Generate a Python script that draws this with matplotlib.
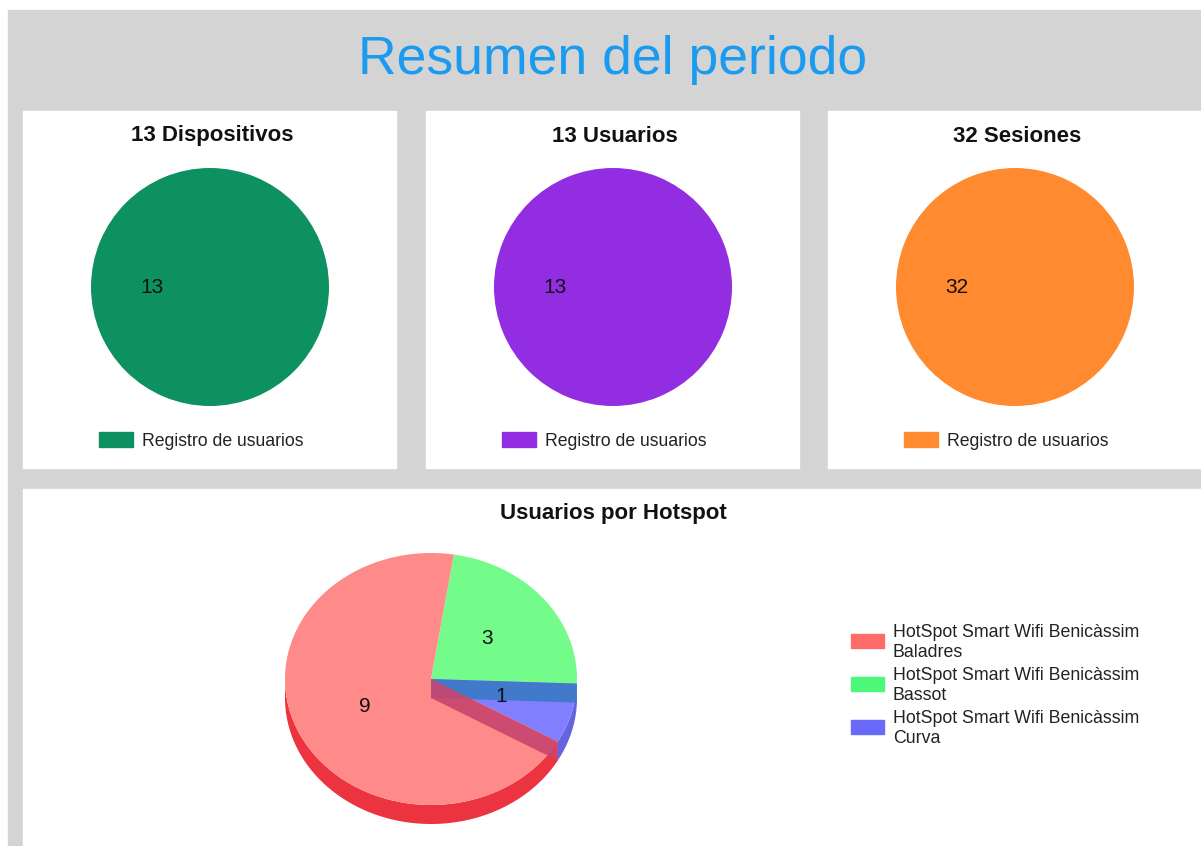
import numpy as np
import matplotlib.pyplot as plt
from matplotlib.patches import Rectangle, Polygon

plt.rcParams['font.family'] = ['Liberation Sans', 'DejaVu Sans']

# summary counters
summary_titles = ['Dispositivos', 'Usuarios', 'Sesiones']
summary_values = [13, 13, 32]
summary_colors = ['#0e9160', '#922de2', '#ff8a30']
summary_label = 'Registro de usuarios'

# users per hotspot
hotspots = ['HotSpot Smart Wifi Benicàssim\nBaladres',
            'HotSpot Smart Wifi Benicàssim\nBassot',
            'HotSpot Smart Wifi Benicàssim\nCurva']
hotspot_users = [9, 3, 1]
top_colors = ['#ff8a8a', '#74fc8a', '#7f7fff']
side_colors = ['#ec3440', '#3fcc5a', '#6464e0']
wall_colors = ['#c8456e', '#3fcc5a', '#3b79c6']
legend_colors = ['#ff6b6b', '#4cf77a', '#6a6af8']

W, H = 1201, 846
fig = plt.figure(figsize=(W / 100, H / 100), dpi=100)
fig.patch.set_facecolor('white')

# pixel based background axes
bg = fig.add_axes([0, 0, 1, 1])
bg.set_xlim(0, W)
bg.set_ylim(H, 0)
bg.axis('off')

bg.add_patch(Rectangle((8, 10), W - 8, H - 10, color='#d4d4d4', zorder=0))
bg.text(613, 60, 'Resumen del periodo', ha='center', va='center',
        fontsize=38.5, color='#1a9bf0')

panel_left = [23, 426, 828]
panel_w = 373
for i, (name, val, col) in enumerate(zip(summary_titles, summary_values, summary_colors)):
    x0 = panel_left[i]
    bg.add_patch(Rectangle((x0, 111), panel_w, 357, color='white', zorder=1))
    cx = x0 + 187
    bg.text(cx + 2, 136, f'{val} {name}', ha='center', va='center',
            fontsize=16, fontweight='bold', color='#111111', zorder=3)

    # full circle pie
    r = 119
    ax = fig.add_axes([(cx - r) / W, 1 - (287 + r) / H, 2 * r / W, 2 * r / H])
    ax.pie([val], colors=[col], startangle=0,
           autopct=lambda p, v=val: f'{p * v / 100:.0f}', pctdistance=0.49,
           textprops=dict(fontsize=15, color='#111111'),
           wedgeprops=dict(linewidth=0))
    ax.set_xlim(-1, 1)
    ax.set_ylim(-1, 1)
    ax.set_aspect('equal')

    # legend entry
    bg.add_patch(Rectangle((cx - 111, 432), 34, 15, color=col, zorder=3))
    bg.text(cx - 68, 441, summary_label, ha='left', va='center',
            fontsize=12.7, color='#222222', zorder=3)

# bottom panel
bg.add_patch(Rectangle((23, 489), W - 23, H - 489, color='white', zorder=1))
bg.text(613, 514, 'Usuarios por Hotspot', ha='center', va='center',
        fontsize=16, fontweight='bold', color='#111111', zorder=3)

# 3d pie
pcx, pcy = 431, 679
rx, ry = 146, 126
depth = 19
total = sum(hotspot_users)
start = 81.0
bounds = [start]
for v in [hotspot_users[1], hotspot_users[2], hotspot_users[0]]:
    bounds.append(bounds[-1] - 360.0 * v / total)
# slice order drawn clockwise: green, blue, red
order = [1, 2, 0]
spans = {order[k]: (bounds[k + 1], bounds[k]) for k in range(3)}


def arc(a0, a1, n=120, dy=0):
    t = np.radians(np.linspace(a0, a1, n))
    return np.column_stack([pcx + rx * np.cos(t), pcy - ry * np.sin(t) + dy])


# outer side walls, front half only
for i, (a0, a1) in spans.items():
    for shift in (0, 360):
        lo, hi = max(a0 + shift, -180), min(a1 + shift, 0)
        if hi > lo:
            top = arc(lo, hi)
            bot = arc(hi, lo, dy=depth)
            bg.add_patch(Polygon(np.vstack([top, bot]), closed=True,
                                 color=side_colors[i], lw=0, zorder=2))

# top faces
for i, (a0, a1) in spans.items():
    pts = np.vstack([[pcx, pcy], arc(a0, a1)])
    bg.add_patch(Polygon(pts, closed=True, color=top_colors[i], lw=0, zorder=3))

# radial walls at the start edge of blue and red slices
for i in (2, 0):
    a = np.radians(spans[i][1])
    ex, ey = pcx + rx * np.cos(a), pcy - ry * np.sin(a)
    pts = [[pcx, pcy], [ex, ey], [ex, ey + depth], [pcx, pcy + depth]]
    bg.add_patch(Polygon(pts, closed=True, color=wall_colors[i], lw=0,
                         alpha=0.9, zorder=4))

# value labels
for i, (a0, a1) in spans.items():
    m = np.radians((a0 + a1) / 2)
    bg.text(pcx + 0.5 * rx * np.cos(m), pcy - 0.5 * ry * np.sin(m),
            str(hotspot_users[i]), ha='center', va='center',
            fontsize=15, color='#111111', zorder=5)

# legend
for k, (lab, col) in enumerate(zip(hotspots, legend_colors)):
    y = 641 + 43 * k
    bg.add_patch(Rectangle((851, y - 7), 33, 14, color=col, zorder=3))
    bg.text(893, y - 17, lab, ha='left', va='top', fontsize=12.8,
            linespacing=1.2, color='#222222', zorder=3)

fig.savefig('out.png', dpi=100)
